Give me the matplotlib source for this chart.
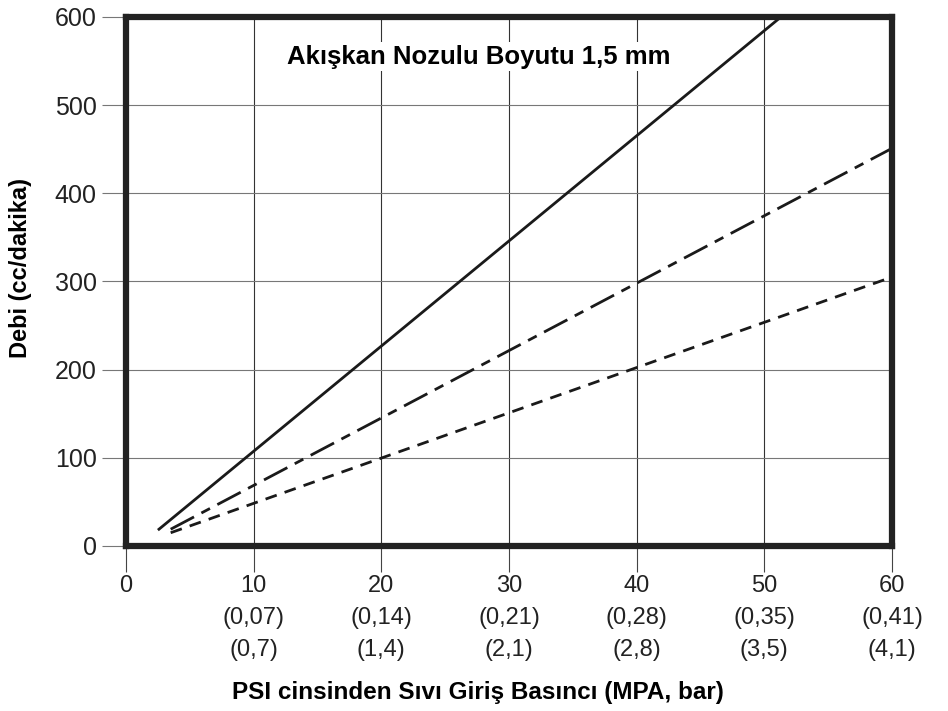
import matplotlib
matplotlib.use('Agg')
import matplotlib.pyplot as plt

# line end points (psi, cc/dakika)
solid_x = [2.5, 51.3]
solid_y = [18, 600]
dashdot_x = [3.5, 60]
dashdot_y = [19, 451]
dashed_x = [3.5, 60]
dashed_y = [15, 305]

x_ticks = [0, 10, 20, 30, 40, 50, 60]
x_labels = ['0', '10\n(0,07)\n(0,7)', '20\n(0,14)\n(1,4)', '30\n(0,21)\n(2,1)',
            '40\n(0,28)\n(2,8)', '50\n(0,35)\n(3,5)', '60\n(0,41)\n(4,1)']
y_ticks = [0, 100, 200, 300, 400, 500, 600]

title = 'Akışkan Nozulu Boyutu 1,5 mm'
xlabel = 'PSI cinsinden Sıvı Giriş Basıncı (MPA, bar)'
ylabel = 'Debi (cc/dakika)'

plt.rcParams['font.family'] = ['Liberation Sans', 'DejaVu Sans']
plt.rcParams['lines.scale_dashes'] = False

fig = plt.figure(figsize=(9.48, 7.11), dpi=100)
ax = fig.add_axes([0.1329, 0.2321, 0.808, 0.744])

line_kw = dict(color='#1a1a1a', linewidth=2.0, solid_capstyle='butt', dash_capstyle='butt')
ax.plot(solid_x, solid_y, **line_kw)
ax.plot(dashdot_x, dashdot_y, dashes=(19, 6, 7, 6), **line_kw)
ax.plot(dashed_x, dashed_y, dashes=(8.5, 6), **line_kw)

ax.set_xlim(0, 60)
ax.set_ylim(0, 600)
ax.set_xticks(x_ticks)
ax.set_xticklabels(x_labels, linespacing=1.58)
ax.set_yticks(y_ticks)

ax.xaxis.grid(True, color='#333333', linewidth=0.8)
ax.yaxis.grid(True, color='#777777', linewidth=0.8)
ax.set_axisbelow(True)
for s in ax.spines.values():
    s.set_linewidth(4.5)
    s.set_color('#222222')

ax.tick_params(axis='y', direction='out', length=17, width=0.8, color='#777777',
               labelsize=18, pad=4, labelcolor='#222222')
ax.tick_params(axis='x', direction='out', length=19, width=0.8, color='#444444',
               labelsize=17, pad=2, labelcolor='#222222')

ax.text(0.46, 0.925, title, transform=ax.transAxes, ha='center', va='center',
        fontsize=18.5, fontweight='bold',
        bbox=dict(facecolor='white', edgecolor='none', pad=2))

ax.set_ylabel(ylabel, fontsize=17, fontweight='bold')
ax.yaxis.set_label_coords(-0.123, 0.525)
fig.text(478 / 948, 1 - 693 / 711, xlabel, ha='center', va='center',
         fontsize=17.5, fontweight='bold')

fig.savefig('out.png', dpi=100)
